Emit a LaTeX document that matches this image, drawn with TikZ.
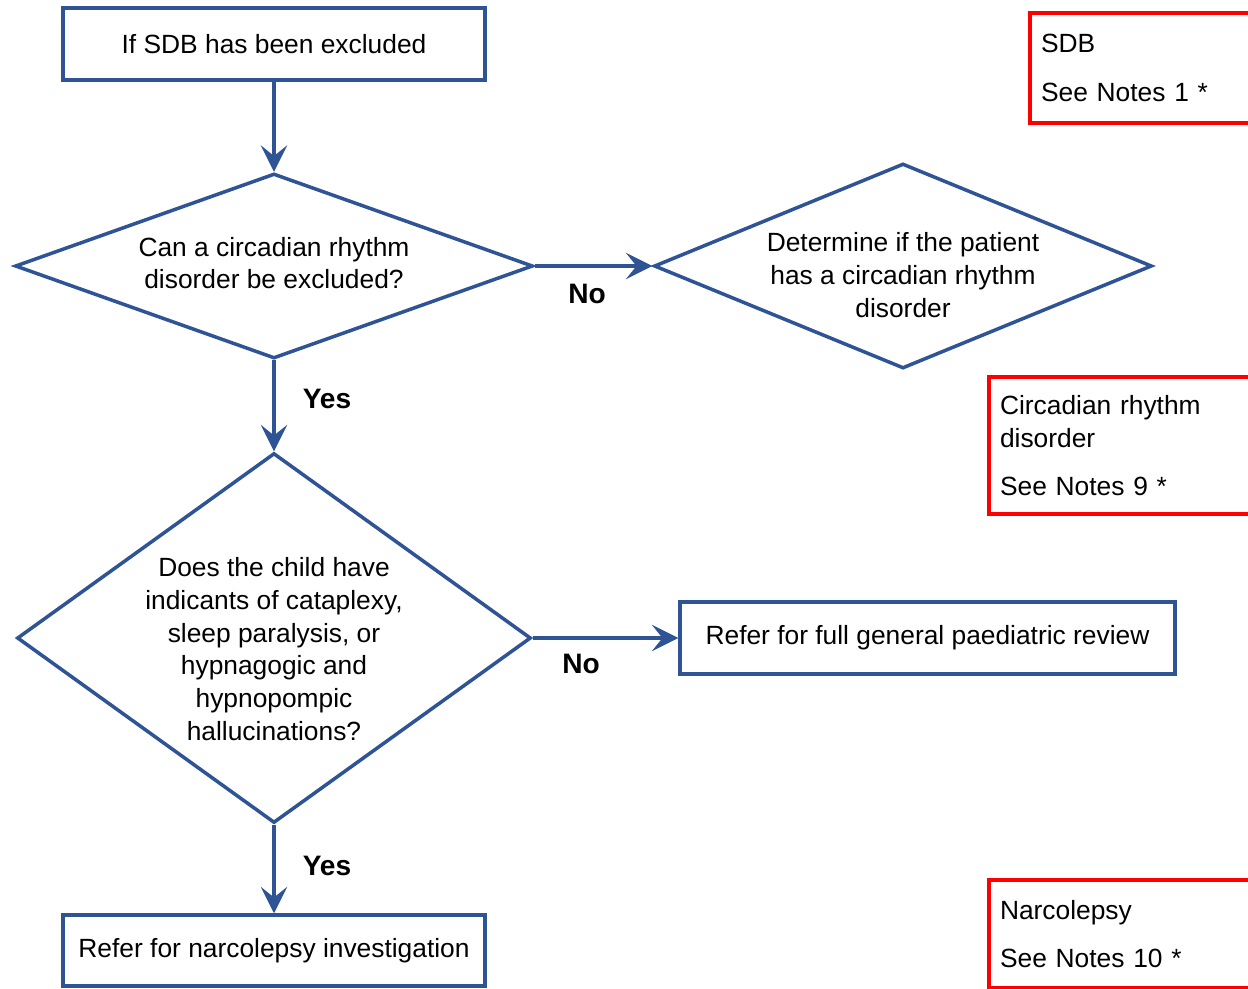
\documentclass[tikz,border=0pt]{standalone}
\usepackage{fontspec}
\setmainfont{Liberation Sans}
\usetikzlibrary{shapes.geometric,arrows.meta}
\definecolor{flowblue}{RGB}{47,84,150}
\definecolor{notered}{RGB}{255,0,0}

\begin{document}
\begin{tikzpicture}[x=0.02cm,y=-0.02cm,
  every node/.style={font=\fontsize{15}{18.7}\selectfont},
  stepbox/.style={draw=flowblue,line width=2pt,rectangle,inner sep=0pt},
  decision/.style={draw=flowblue,line width=2pt,diamond,inner sep=0pt},
  notebox/.style={draw=notered,line width=2.3pt,rectangle,anchor=north west,align=left,inner xsep=0.22cm},
  answer/.style={font=\fontsize{16}{19}\selectfont\bfseries},
  flow/.style={draw=flowblue,line width=2pt,-{Stealth[length=15pt,width=15pt,inset=6pt]}}]
\clip (0,0) rectangle (1248,988);

% Boxes
\node[stepbox,minimum width=8.44cm,minimum height=1.44cm] (excl) at (274,44) {If SDB has been excluded};
\node[stepbox,minimum width=9.9cm,minimum height=1.44cm] (paed) at (927.5,638) {Refer for full general paediatric review};
\node[stepbox,minimum width=8.44cm,minimum height=1.42cm] (narc) at (274,950.5) {Refer for narcolepsy investigation};

% Decisions
\node[decision,minimum width=10.36cm,minimum height=3.7cm] (circ) at (274,266) {};
\node[align=center] (circtxt) at ([yshift=0.06cm]circ.center) {Can a circadian rhythm\\disorder be excluded?};
\node[decision,minimum width=9.96cm,minimum height=4.1cm] (det) at (903,266) {};
\node[align=center] (dettxt) at ([yshift=-0.18cm]det.center) {Determine if the patient\\has a circadian rhythm\\disorder};
\node[decision,minimum width=10.28cm,minimum height=7.4cm] (cata) at (274,638) {};
\node[align=center] (catatxt) at ([yshift=-0.22cm]cata.center) {Does the child have\\indicants of cataplexy,\\sleep paralysis, or\\hypnagogic and\\hypnopompic\\hallucinations?};

% Notes
\node[notebox,text width=4.4cm,minimum width=4.8cm,minimum height=2.2cm] (nsdb) at (1028,11) {SDB\\[9pt]See Notes 1 *};
\node[notebox,text width=5.2cm,minimum width=5.6cm,minimum height=2.74cm] (ncirc) at (987,375) {Circadian rhythm\\disorder\\[9pt]See Notes 9 *};
\node[notebox,text width=5.2cm,minimum width=5.6cm,minimum height=2.16cm] (nnarc) at (987,878) {Narcolepsy\\[9pt]See Notes 10 *};

% Arrows
\draw[flow] (excl) -- (circ.north);
\draw[flow] (circ.east) -- (det.west);
\draw[flow] (circ.south) -- (cata.north);
\draw[flow] (cata.east) -- (paed.west);
\draw[flow] (cata.south) -- (narc.north);

% Answers
\node[answer] (no1) at (587,294) {No};
\node[answer] (yes1) at (327,399) {Yes};
\node[answer] (no2) at (581,664) {No};
\node[answer] (yes2) at (327,866) {Yes};
\end{tikzpicture}
\end{document}
